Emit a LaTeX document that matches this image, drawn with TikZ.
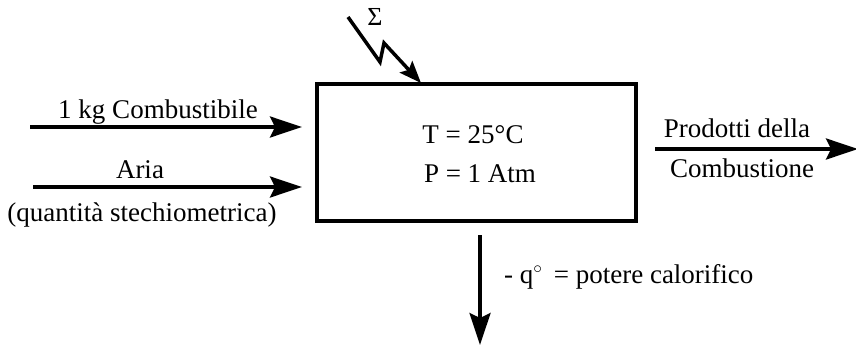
\documentclass[tikz,border=0pt]{standalone}
\usepackage{fontspec}
\setmainfont{Liberation Serif}
\usetikzlibrary{arrows.meta}
\begin{document}
\begin{tikzpicture}[x=1pt,y=-1pt,
  lbl/.style={inner sep=0pt,anchor=base,font=\fontsize{27}{31}\selectfont},
  flow/.style={line width=3.5pt,-{Stealth[length=32pt,width=21pt,inset=5pt]}},
  boxst/.style={draw,line width=3.5pt,minimum width=319pt,minimum height=137pt,inner sep=0pt}]
\useasboundingbox (0,0) rectangle (856,345);
\node[boxst] (box) at (476.5,152.5) {};
\node[lbl] (t) at (473,143) {T = 25°C};
\node[lbl] (p) at (480,182) {P = 1 Atm};
% inputs
\coordinate (a1s) at (30,127);
\coordinate (a1e) at (302,127);
\coordinate (a2s) at (33,187);
\coordinate (a2e) at (302,187);
\draw[flow] (a1s) -- (a1e);
\draw[flow] (a2s) -- (a2e);
\node[lbl] (comb) at (158,118) {1 kg Combustibile};
\node[lbl] (aria) at (140,178) {Aria};
\node[lbl] (qs) at (142,221) {(quantità stechiometrica)};
% output
\coordinate (rs) at (655,149);
\coordinate (re) at (858,149);
\draw[flow] (rs) -- (re);
\node[lbl] (prod) at (737,137) {Prodotti della};
\node[lbl] (cmb) at (742,177) {Combustione};
% heat
\coordinate (ds) at (480,235);
\coordinate (de) at (480,345);
\draw[flow] (ds) -- (de);
\node[lbl,anchor=base west] (q) at (504,283) {- q$^{\circ}$\ \,= potere calorifico};
% lightning
\coordinate (l1) at (348,17);
\coordinate (l2) at (380,62);
\coordinate (l3) at (384,43);
\coordinate (l4) at (421,83);
\draw[line width=3.5pt,line join=miter,-{Stealth[length=22pt,width=17pt,inset=4pt]}] (l1) -- (l2) -- (l3) -- (l4);
\node[lbl,font=\fontsize{26}{30}\selectfont] (sig) at (375,26) {Σ};
\end{tikzpicture}
\end{document}
